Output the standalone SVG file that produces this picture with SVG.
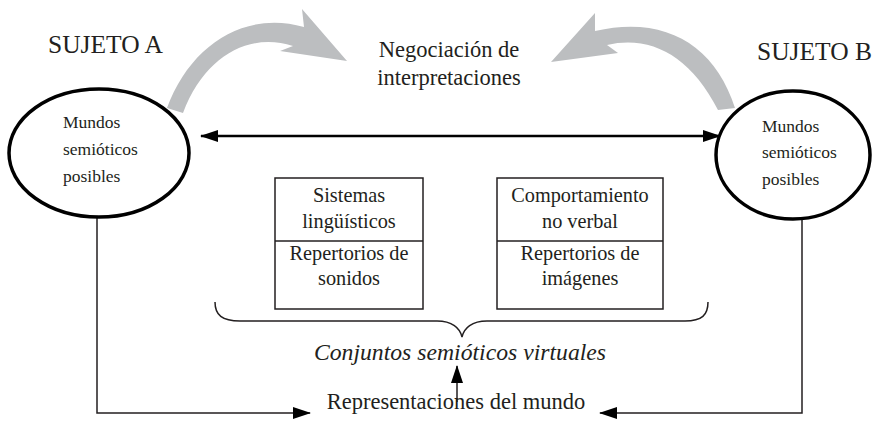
<svg xmlns="http://www.w3.org/2000/svg" width="874" height="421" viewBox="0 0 874 421" font-family="'Liberation Serif', 'DejaVu Serif', serif">
<defs>
<style>
text{fill:#231f20}
.title{font-size:25.5px}
.small{font-size:17.5px}
.box{font-size:20.3px;text-anchor:middle}
.big{font-size:22.5px;text-anchor:middle}
.ital{font-size:23.7px;font-style:italic;text-anchor:middle}
.ell{fill:#fff;stroke:#000;stroke-width:3.5}
.rect{fill:#fff;stroke:#231f20;stroke-width:1.5}
.conn{fill:none;stroke:#231f20;stroke-width:1.5}
.thick{fill:none;stroke:#000;stroke-width:2.5}
.gray{fill:#bcbec0}
</style>
<marker id="ah" viewBox="0 0 18 12" refX="17" refY="6" markerWidth="18" markerHeight="12" markerUnits="userSpaceOnUse" orient="auto-start-reverse">
<path d="M0,0 L18,6 L0,12 Z" fill="#000"/>
</marker>
</defs>

<g id="grayArrowA"><path class="gray" d="M167,108 C190,45 245,10 304,27 L302,9 L347,61 L280,51 L293,46 C250,32 205,55 183,113 Z"/></g>
<g id="grayArrowB"><path class="gray" d="M735,108 C715,45 665,15 595,31 L595,13 L551,62 L618,53 L607,45 C650,35 690,55 718,110 Z"/></g>

<g id="connectors">
<path class="thick" d="M201,136 H720" marker-start="url(#ah)" marker-end="url(#ah)"/>
<path class="conn" d="M97,218 V413 H310" marker-end="url(#ah)"/>
<path class="conn" d="M802,220 V413 H600" marker-end="url(#ah)"/>
<path class="conn" d="M457,402 V366" marker-end="url(#ah)"/>
<path class="conn" d="M215,302 C215,315 222,321 240,321 L437,321 C452,321 460,328 462,337 C464,328 472,321 487,321 L685,321 C702,321 708,315 708,302"/>
</g>

<g id="sujetoA">
<text class="title" x="48" y="53">SUJETO A</text>
<ellipse class="ell" cx="99" cy="153" rx="90" ry="64"/>
<text class="small" x="63" y="128">Mundos</text>
<text class="small" x="63" y="155">semióticos</text>
<text class="small" x="63" y="182">posibles</text>
</g>

<g id="sujetoB">
<text class="title" x="757" y="60">SUJETO B</text>
<ellipse class="ell" cx="793" cy="155" rx="77" ry="64"/>
<text class="small" x="762" y="132">Mundos</text>
<text class="small" x="762" y="158">semióticos</text>
<text class="small" x="762" y="185">posibles</text>
</g>

<g id="negociacion">
<text class="big" x="449" y="57">Negociación de</text>
<text class="big" x="449" y="85">interpretaciones</text>
</g>

<g id="box1">
<rect class="rect" x="275" y="178" width="148" height="131"/>
<line class="conn" x1="275" y1="241" x2="423" y2="241"/>
<text class="box" x="349" y="202">Sistemas</text>
<text class="box" x="349" y="228">lingüísticos</text>
<text class="box" x="349" y="260">Repertorios de</text>
<text class="box" x="349" y="285">sonidos</text>
</g>

<g id="box2">
<rect class="rect" x="497" y="178" width="166" height="131"/>
<line class="conn" x1="497" y1="241" x2="663" y2="241"/>
<text class="box" x="580" y="202">Comportamiento</text>
<text class="box" x="580" y="228">no verbal</text>
<text class="box" x="580" y="260">Repertorios de</text>
<text class="box" x="580" y="285">imágenes</text>
</g>

<g id="conjuntos">
<text class="ital" x="460" y="360">Conjuntos semióticos virtuales</text>
</g>

<g id="representaciones">
<text class="big" x="456" y="409">Representaciones del mundo</text>
</g>
</svg>
